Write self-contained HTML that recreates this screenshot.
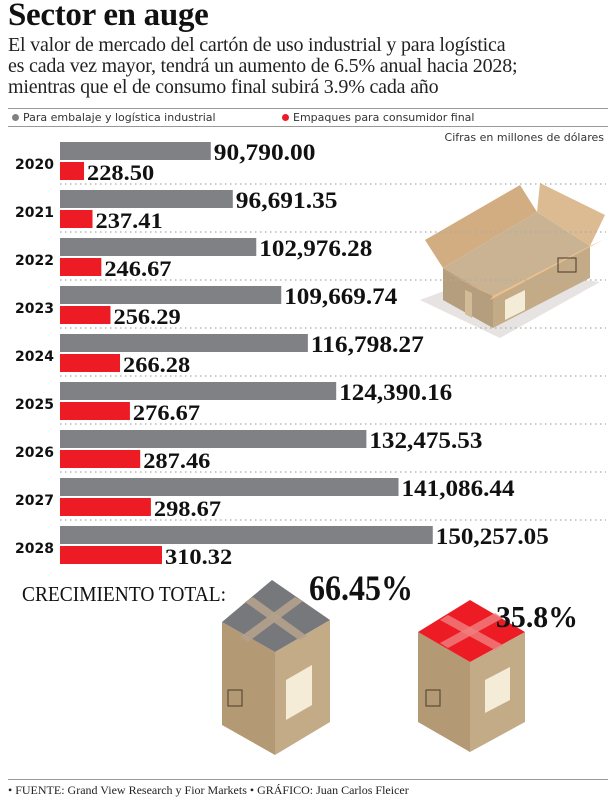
<!DOCTYPE html>
<html><head><meta charset="utf-8">
<style>
body{margin:0;background:#fff;width:616px;height:800px;overflow:hidden;position:relative;font-family:"Liberation Serif",serif}
.abs{position:absolute}
h1{position:absolute;left:8px;top:-3px;margin:0;font:bold 33px "Liberation Serif",serif;letter-spacing:-0.3px;color:#111}
.sub{position:absolute;left:8px;top:35px;font-size:20px;line-height:21px;color:#222;width:616px;letter-spacing:-0.2px;white-space:nowrap}
.hr{position:absolute;left:8px;right:8px;height:1px;background:#999}
.leg{position:absolute;top:111px;font:11px "DejaVu Sans",sans-serif;color:#333}
.dot{display:inline-block;width:7px;height:7px;border-radius:50%;margin-right:4px;vertical-align:0}
</style></head><body>
<h1>Sector en auge</h1>
<div class="sub">El valor de mercado del cartón de uso industrial y para logística<br>es cada vez mayor, tendrá un aumento de 6.5% anual hacia 2028;<br>mientras que el de consumo final subirá 3.9% cada año</div>
<div class="hr" style="top:108px"></div>
<div class="hr" style="top:126px"></div>
<div class="leg" style="left:12px"><span class="dot" style="background:#808184"></span>Para embalaje y logística industrial</div>
<div class="leg" style="left:282px"><span class="dot" style="background:#ed1c24"></span>Empaques para consumidor final</div>
<div class="abs" style="right:12px;top:131px;font:11px 'DejaVu Sans',sans-serif;color:#333">Cifras en millones de dólares</div>

<svg class="abs" style="left:0;top:0" width="616" height="800" id="chart">
<g>
<polygon points="420,300 500,270 600,282 500,338" fill="#e6e3e2"/>
<polygon points="443,268 443,300 493,328 493,296" fill="#b59e7d"/>
<polygon points="493,296 493,328 590,278 590,246" fill="#c4ab88"/>
<polygon points="465,290 472,293 472,318 465,314" fill="#d4bb98"/>
<polygon points="505,300 525,290 525,310 505,320" fill="#f5ecd8"/>
<polygon points="443,268 537,212 590,246 493,296" fill="#c9b393"/>
<polygon points="425,240 520,185 537,212 443,268" fill="#d2ad82"/>
<polygon points="537,212 540,183 605,215 590,246" fill="#dcbb93"/>
<polygon points="428,262 480,290 493,296 443,270" fill="#efbf8c"/>
<polygon points="493,296 590,246 603,240 490,300" fill="#efbf8c"/>
<rect x="558" y="258" width="18" height="14" fill="none" stroke="#4a3a2a" stroke-width="1"/>
</g>
<g>
<polygon points="222,622 275,652 275,755 222,725" fill="#b39a74"/>
<polygon points="275,652 330,620 330,722 275,755" fill="#c4ab88"/>
<polygon points="222,622 272,580 330,620 275,652" fill="#77787b"/>
<polygon points="245,602 253,597 307,636 299,640" fill="#b3a18c" opacity="0.9"/>
<polygon points="240,637 295,597 303,601 248,642" fill="#b3a18c" opacity="0.9"/>
<polygon points="286,680 312,665 312,705 286,720" fill="#f5ecd8"/>
<rect x="228" y="690" width="14" height="16" fill="none" stroke="#4a3a2a"/>
</g>
<g>
<polygon points="418,632 470,662 470,752 418,722" fill="#b39a74"/>
<polygon points="470,662 525,632 525,722 470,752" fill="#c4ab88"/>
<polygon points="418,632 470,600 525,632 470,662" fill="#ed1c24"/>
<polygon points="440,620 448,615 503,645 495,650" fill="#f08080" opacity="0.8"/>
<polygon points="440,643 495,613 503,618 448,648" fill="#f08080" opacity="0.8"/>
<polygon points="485,680 510,667 510,700 485,713" fill="#f5ecd8"/>
<rect x="426" y="690" width="14" height="16" fill="none" stroke="#4a3a2a"/>
</g>
<text x="22" y="601" font-family="Liberation Serif, serif" font-size="21" fill="#111" textLength="204" lengthAdjust="spacingAndGlyphs">CRECIMIENTO TOTAL:</text>
<text x="309" y="600" font-family="Liberation Serif, serif" font-weight="bold" font-size="36" fill="#111" textLength="104" lengthAdjust="spacingAndGlyphs">66.45%</text>
<text x="496" y="627" font-family="Liberation Serif, serif" font-weight="bold" font-size="31" fill="#111" textLength="82" lengthAdjust="spacingAndGlyphs">35.8%</text>
</svg>
<div class="hr" style="top:779px"></div>
<div class="abs" style="left:8px;top:783px;font-size:12px;color:#222">• FUENTE: Grand View Research y Fior Markets  • GRÁFICO: Juan Carlos Fleicer</div>

<script>
const years = ["2020","2021","2022","2023","2024","2025","2026","2027","2028"];
const industrial = [90790.00,96691.35,102976.28,109669.74,116798.27,124390.16,132475.53,141086.44,150257.05];
const consumer = [228.50,237.41,246.67,256.29,266.28,276.67,287.46,298.67,310.32];
const industrialLabels = ["90,790.00","96,691.35","102,976.28","109,669.74","116,798.27","124,390.16","132,475.53","141,086.44","150,257.05"];
const consumerLabels = ["228.50","237.41","246.67","256.29","266.28","276.67","287.46","298.67","310.32"];

const NS="http://www.w3.org/2000/svg";
const svg=document.getElementById('chart');
const x0=60;
function xInd(v){return (v-50400)*0.003733;}
function xCon(v){return (v-203.3)*0.953;}
function mk(tag,attrs){const e=document.createElementNS(NS,tag);for(const k in attrs)e.setAttribute(k,attrs[k]);svg.appendChild(e);return e;}
years.forEach((y,i)=>{
  const top=142+i*48;
  const t=mk('text',{x:15,y:top+27,'font-family':'DejaVu Sans, sans-serif','font-weight':'bold','font-size':14,fill:'#111'});
  t.textContent=y;
  
  
  const g=mk('rect',{x:x0,y:top,width:xInd(industrial[i]),height:18,fill:'#808184'});
  
  
  const il=industrialLabels[i];
  const gl=mk('text',{x:x0+xInd(industrial[i])+3,y:top+18,'font-family':'Liberation Serif, serif','font-weight':'bold','font-size':23,fill:'#111',textLength:il.length*11.3,lengthAdjust:'spacingAndGlyphs'});
  gl.textContent=il;
  
  
  const r=mk('rect',{x:x0,y:top+20,width:xCon(consumer[i]),height:18,fill:'#ed1c24'});
  
  
  const cl=consumerLabels[i];
  const rl=mk('text',{x:x0+xCon(consumer[i])+3,y:top+38,'font-family':'Liberation Serif, serif','font-weight':'bold','font-size':22,fill:'#111',textLength:cl.length*11.2,lengthAdjust:'spacingAndGlyphs'});
  rl.textContent=cl;
  
  
  if(i<years.length-1){
    const d=mk('line',{x1:60,x2:606,y1:top+42,y2:top+42,stroke:'#aaa','stroke-width':1.3,'stroke-dasharray':'1.5 3.5'});
    
    
  }
});
</script>
</body></html>
